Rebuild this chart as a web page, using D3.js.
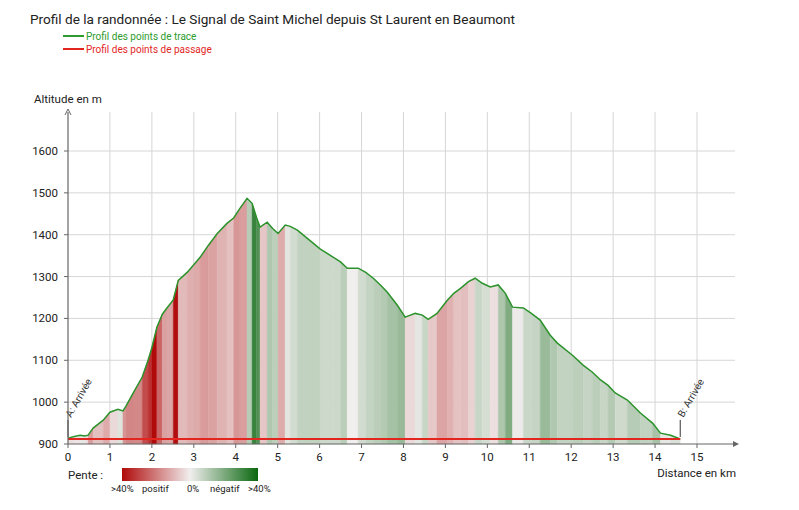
<!DOCTYPE html>
<html>
<head>
<meta charset="utf-8">
<script src="https://cdn.jsdelivr.net/npm/d3@7"></script>
<style>
  body { margin: 0; background: #fff; }
  text { font-family: Roboto, "Noto Sans", sans-serif; }
</style>
</head>
<body>
<svg id="chart" width="799" height="510"></svg>
<script>
var w = 799;
var h = 510;

// profil : distance (km) / altitude (m)
var distKm = [0.0, 0.15, 0.29, 0.4, 0.48, 0.6, 0.84, 1.0, 1.19, 1.31, 1.38, 1.55, 1.77, 1.91, 2.0, 2.12,
  2.25, 2.36, 2.51, 2.63, 2.84, 3.0, 3.15, 3.35, 3.56, 3.79, 3.95, 4.1, 4.27, 4.39, 4.5, 4.58, 4.75,
  4.88, 5.01, 5.18, 5.3, 5.47, 5.7, 6.01, 6.33, 6.5, 6.66, 6.92, 7.1, 7.28, 7.45, 7.61, 7.85, 8.04,
  8.28, 8.45, 8.59, 8.8, 9.04, 9.2, 9.36, 9.55, 9.71, 9.88, 10.07, 10.26, 10.43, 10.6, 10.86, 11.05,
  11.26, 11.5, 11.67, 12.03, 12.29, 12.5, 12.7, 12.88, 13.05, 13.34, 13.65, 13.94, 14.13, 14.37, 14.6];
var altM = [914, 918, 921, 919, 921, 938, 957, 976, 983, 979, 990, 1021, 1060, 1100, 1130, 1179,
  1210, 1225, 1244, 1291, 1310, 1328, 1346, 1375, 1403, 1427, 1440, 1463, 1487, 1475, 1440, 1418, 1430,
  1415, 1403, 1423, 1420, 1411, 1392, 1366, 1346, 1335, 1320, 1320, 1310, 1296, 1280, 1263, 1232, 1203,
  1212, 1208, 1198, 1212, 1243, 1260, 1272, 1288, 1296, 1284, 1275, 1280, 1260, 1227, 1225, 1212,
  1196, 1160, 1141, 1112, 1088, 1072, 1053, 1040, 1022, 1005, 974, 950, 926, 921, 912];

// points de passage
var passageKm = [0, 14.6];
var passageAlt = [912, 912];
var passageLabels = ["A: Arrivée", "B: Arrivée"];

var xTicks = [0, 1, 2, 3, 4, 5, 6, 7, 8, 9, 10, 11, 12, 13, 14, 15];
var yTicks = [900, 1000, 1100, 1200, 1300, 1400, 1500, 1600];
var slopeStops = [40, 0, -40];
var slopeColors = ["#b00a0a", "#f1eeee", "#0a670f"];

var svg = d3.select("#chart");

var x = d3.scaleLinear().domain([0, 15]).range([68, 697]);
var y = d3.scaleLinear().domain([900, 1600]).range([444, 151]);
var slopeColor = d3.scaleLinear().domain(slopeStops).range(slopeColors).clamp(true);

var pts = distKm.map(function(d, i) { return {km: d, alt: altM[i]}; });

// titre + légende
svg.append("text").attr("x", 30).attr("y", 24).attr("font-size", 13.6).attr("fill", "#222")
  .text("Profil de la randonnée : Le Signal de Saint Michel depuis St Laurent en Beaumont");

var leg = [
  {y: 36, color: "#2e9b2e", label: "Profil des points de trace"},
  {y: 49, color: "#e2261f", label: "Profil des points de passage"}
];
leg.forEach(function(l) {
  svg.append("line").attr("x1", 63).attr("x2", 84).attr("y1", l.y).attr("y2", l.y)
    .attr("stroke", l.color).attr("stroke-width", 2);
  svg.append("text").attr("x", 86).attr("y", l.y + 3.5).attr("font-size", 10)
    .attr("fill", l.color).text(l.label);
});

// grille
var grid = svg.append("g");
grid.selectAll("line.v").data(xTicks.slice(1)).enter().append("line")
  .attr("x1", function(d) { return x(d); }).attr("x2", function(d) { return x(d); })
  .attr("y1", 112).attr("y2", 444)
  .attr("stroke", "#d6d6d6").attr("stroke-width", 1);
grid.selectAll("line.h").data(yTicks.slice(1)).enter().append("line")
  .attr("x1", 68).attr("x2", 735)
  .attr("y1", function(d) { return y(d); }).attr("y2", function(d) { return y(d); })
  .attr("stroke", "#d6d6d6").attr("stroke-width", 1);

// bandes de pente
var band = d3.area()
  .x(function(d) { return x(d.km); })
  .y0(y(900))
  .y1(function(d) { return y(d.alt); });

function pente(d) {
  return (d[1].alt - d[0].alt) / ((d[1].km - d[0].km) * 1000) * 100;
}

var segs = d3.pairs(pts);
svg.append("g").selectAll("path").data(segs).enter().append("path")
  .attr("d", function(d) { return band(d); })
  .attr("fill", function(d) { return slopeColor(pente(d)); })
  .attr("stroke", function(d) { return slopeColor(pente(d)); })
  .attr("stroke-width", 0.4);

// profil
var line = d3.line().x(function(d) { return x(d.km); }).y(function(d) { return y(d.alt); });
svg.append("path").datum(pts).attr("d", line)
  .attr("fill", "none").attr("stroke", "#2c932c").attr("stroke-width", 1.5);

// points de passage
var pass = passageKm.map(function(d, i) { return {km: d, alt: passageAlt[i], label: passageLabels[i]}; });
svg.append("path").datum(pass).attr("d", line)
  .attr("fill", "none").attr("stroke", "#e2261f").attr("stroke-width", 1.8);

pass.forEach(function(p) {
  var px = x(p.km), py = y(p.alt);
  svg.append("line").attr("x1", px).attr("x2", px).attr("y1", py - 2).attr("y2", py - 19)
    .attr("stroke", "#333").attr("stroke-width", 1);
  svg.append("text")
    .attr("transform", "translate(" + (px + 3) + "," + (py - 21) + ") rotate(-60)")
    .attr("font-size", 10).attr("fill", "#333").text(p.label);
});

// axes
var axisColor = "#666";
svg.append("line").attr("x1", 68).attr("x2", 68).attr("y1", 444).attr("y2", 112)
  .attr("stroke", axisColor).attr("stroke-width", 1.2);
svg.append("path").attr("d", "M65,115 L68,109 L71,115").attr("fill", "none").attr("stroke", axisColor);
svg.append("line").attr("x1", 68).attr("x2", 736).attr("y1", 444).attr("y2", 444)
  .attr("stroke", axisColor).attr("stroke-width", 1.2);
svg.append("path").attr("d", "M733,441 L739,444 L733,447 Z").attr("fill", axisColor);

svg.selectAll("line.yt").data(yTicks).enter().append("line")
  .attr("x1", 64).attr("x2", 68)
  .attr("y1", function(d) { return y(d); }).attr("y2", function(d) { return y(d); })
  .attr("stroke", axisColor);
svg.selectAll("text.yl").data(yTicks).enter().append("text")
  .attr("x", 58).attr("y", function(d) { return y(d) + 4; })
  .attr("text-anchor", "end").attr("font-size", 11.5).attr("fill", "#222")
  .text(function(d) { return d; });

svg.selectAll("line.xt").data(xTicks).enter().append("line")
  .attr("x1", function(d) { return x(d); }).attr("x2", function(d) { return x(d); })
  .attr("y1", 444).attr("y2", 448)
  .attr("stroke", axisColor);
svg.selectAll("text.xl").data(xTicks).enter().append("text")
  .attr("x", function(d) { return x(d); }).attr("y", 461)
  .attr("text-anchor", "middle").attr("font-size", 11.5).attr("fill", "#222")
  .text(function(d) { return d; });

svg.append("text").attr("x", 34).attr("y", 103).attr("font-size", 11.5).attr("fill", "#222")
  .text("Altitude en m");
svg.append("text").attr("x", 736).attr("y", 477).attr("text-anchor", "end")
  .attr("font-size", 11.5).attr("fill", "#222").text("Distance en km");

// légende de pente
svg.append("text").attr("x", 68).attr("y", 479).attr("font-size", 11.5).attr("fill", "#222")
  .text("Pente :");
var grad = svg.append("defs").append("linearGradient").attr("id", "pente");
slopeColors.forEach(function(c, i) {
  grad.append("stop").attr("offset", (i * 50) + "%").attr("stop-color", c);
});
svg.append("rect").attr("x", 122).attr("y", 468).attr("width", 136).attr("height", 13)
  .attr("fill", "url(#pente)");
var slopeLabels = [
  {x: 111, t: ">40%"}, {x: 142, t: "positif"}, {x: 187, t: "0%"},
  {x: 210, t: "négatif"}, {x: 248, t: ">40%"}
];
svg.selectAll("text.sl").data(slopeLabels).enter().append("text")
  .attr("x", function(d) { return d.x; }).attr("y", 492)
  .attr("font-size", 9.5).attr("fill", "#222")
  .text(function(d) { return d.t; });
</script>
</body>
</html>
